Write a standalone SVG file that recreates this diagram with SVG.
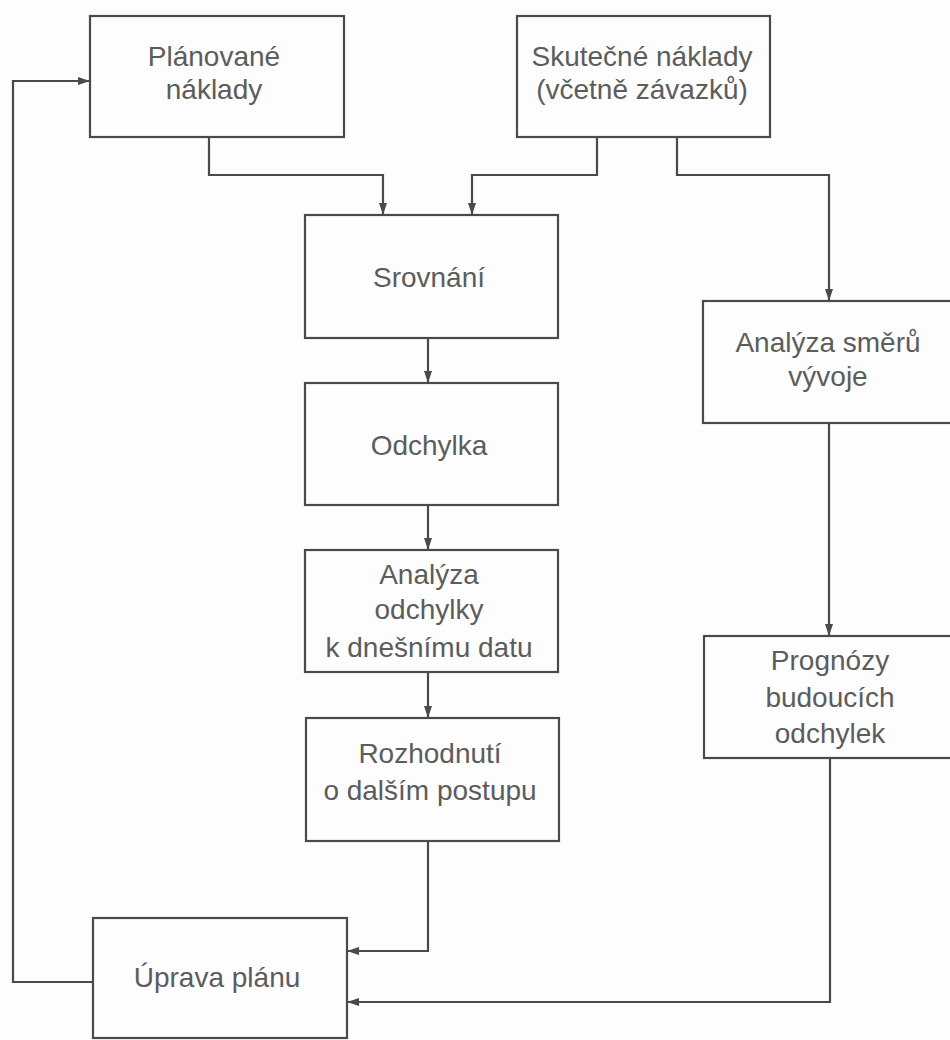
<svg xmlns="http://www.w3.org/2000/svg" width="950" height="1040" viewBox="0 0 950 1040">
<style>
.box{fill:none;stroke:#4a4a4a;stroke-width:2.2}
.t{font-family:"Liberation Sans",Arial,sans-serif;font-size:28px;fill:#5c5c5c;text-anchor:middle}
.c{fill:none;stroke:#4a4a4a;stroke-width:2.2;marker-end:url(#ah)}
</style>
<defs>
<marker id="ah" markerUnits="userSpaceOnUse" markerWidth="14" markerHeight="10" refX="12" refY="5" orient="auto">
<path d="M0,1 L12,5 L0,9 Z" fill="#4a4a4a"/>
</marker>
</defs>
<rect width="950" height="1040" fill="#fdfdfd"/>
<g id="connectors">
<path class="c" d="M209,137 V175 H383 V215"/>
<path class="c" d="M597,137 V175 H472 V215"/>
<path class="c" d="M677,137 V175 H829 V301"/>
<path class="c" d="M428,338 V383"/>
<path class="c" d="M428,505 V550"/>
<path class="c" d="M428,672 V718"/>
<path class="c" d="M428,841 V951 H347"/>
<path class="c" d="M829,423 V636"/>
<path class="c" d="M830,758 V1002 H347"/>
<path class="c" d="M93,982 H13 V81 H90"/>
</g>
<g id="planovane">
<rect class="box" x="90" y="16" width="254" height="121"/>
<text class="t" x="214" y="66">Plánované</text>
<text class="t" x="214" y="99">náklady</text>
</g>
<g id="skutecne">
<rect class="box" x="517" y="16" width="253" height="121"/>
<text class="t" x="642" y="66">Skutečné náklady</text>
<text class="t" x="642" y="99">(včetně závazků)</text>
</g>
<g id="srovnani">
<rect class="box" x="305" y="215" width="253" height="123"/>
<text class="t" x="429" y="287">Srovnání</text>
</g>
<g id="odchylka">
<rect class="box" x="305" y="383" width="253" height="122"/>
<text class="t" x="429" y="455">Odchylka</text>
</g>
<g id="analyza-odchylky">
<rect class="box" x="305" y="550" width="253" height="122"/>
<text class="t" x="429" y="584">Analýza</text>
<text class="t" x="429" y="619">odchylky</text>
<text class="t" x="429" y="657">k dnešnímu datu</text>
</g>
<g id="rozhodnuti">
<rect class="box" x="306" y="718" width="253" height="123"/>
<text class="t" x="430" y="763">Rozhodnutí</text>
<text class="t" x="430" y="800">o dalším postupu</text>
</g>
<g id="analyza-smeru">
<rect class="box" x="703" y="301" width="260" height="122"/>
<text class="t" x="828" y="352">Analýza směrů</text>
<text class="t" x="828" y="386">vývoje</text>
</g>
<g id="prognozy">
<rect class="box" x="704" y="636" width="260" height="122"/>
<text class="t" x="830" y="670">Prognózy</text>
<text class="t" x="830" y="707">budoucích</text>
<text class="t" x="830" y="743">odchylek</text>
</g>
<g id="uprava">
<rect class="box" x="93" y="918" width="254" height="120"/>
<text class="t" x="217" y="987">Úprava plánu</text>
</g>
</svg>
